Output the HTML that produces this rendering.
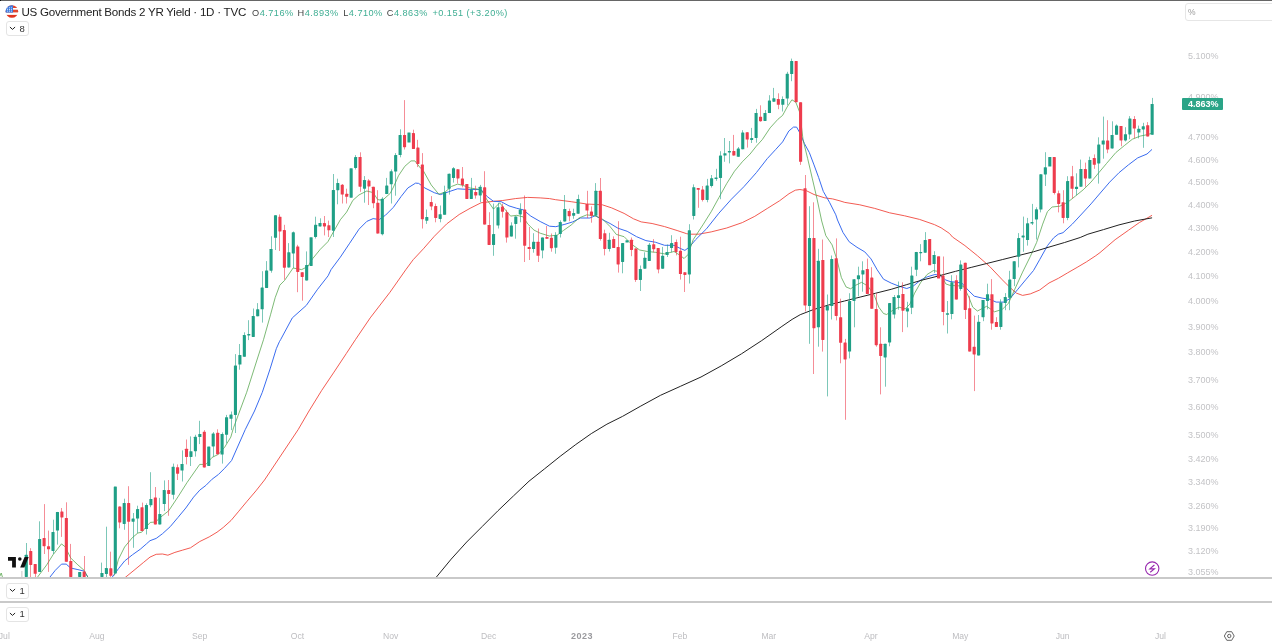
<!DOCTYPE html>
<html><head><meta charset="utf-8"><title>US Government Bonds 2 YR Yield</title>
<style>
html,body{margin:0;padding:0;background:#fff;}
body{width:1272px;height:642px;position:relative;overflow:hidden;font-family:"Liberation Sans",sans-serif;}
.abs{position:absolute}
#topline{left:0;top:0;width:1272px;height:1px;background:#666}
.sep{left:0;width:1272px;height:2px;background:#c9c9c9}
#title{left:21.5px;top:5.3px;font-size:11.6px;letter-spacing:-0.25px;color:#222;white-space:nowrap;line-height:13px}
.ohlc{top:6.5px;font-size:9.2px;letter-spacing:0.47px;color:#444;white-space:nowrap;line-height:12px}
.ohlc i{font-style:normal;color:#3fae93}
.btn{left:5.6px;width:21px;height:13.3px;border:1px solid #e4e4e4;border-radius:3px;font-size:9.5px;color:#333;line-height:13.5px;background:#fff}
.btn span{position:absolute;left:13px;top:-0.7px}
.btn svg{position:absolute;left:2.6px;top:4px}
.pl{position:absolute;left:1188px;font-size:9px;line-height:11px;color:#c3c3c6;white-space:nowrap}
#last{left:1182px;top:98.3px;width:40.7px;height:11.5px;background:#2aa487;color:#fff;font-weight:bold;font-size:9px;line-height:12.3px;text-indent:6px;border-radius:1px}
#pct{left:1185px;top:2.6px;width:95px;height:16px;border:1px solid #e6e6e6;border-radius:3px;font-size:8.5px;color:#9a9a9a;line-height:17px;text-indent:2px;background:#fff}
.tl{position:absolute;top:629.5px;width:40px;text-align:center;font-size:8.6px;line-height:12px;color:#bdbdc0;white-space:nowrap}
.tl.b{font-weight:bold;color:#9a9a9e;font-size:9px;letter-spacing:0.5px}
</style></head><body>
<div class="abs" id="topline"></div><div class="abs" style="left:0;top:0;width:1.2px;height:1.3px;background:#111"></div>
<svg class="abs" style="left:0;top:0" width="1272" height="642" viewBox="0 0 1272 642">
<line x1="21.85" y1="571" x2="21.85" y2="577" stroke="#cfcfcf" stroke-width="1.2"/>
<polyline points="125.4,577.3 134,570.3 143.3,562.6 150,557.1 156.2,554.3 162.5,554 167.9,555.2 174.9,552.4 182.7,550.1 190.5,547.8 199.8,541.5 209.2,536.9 217,532.2 223.2,527.5 231,520.5 238.8,511.2 246.6,501.8 255.9,490.9 264.5,480 298.1,429.7 309,411 321.5,390.7 334,372.1 346.4,353.4 355.4,339.7 370.2,317.9 390,292.2 405.8,269.7 413.2,259.7 423.4,248.8 434.3,236.3 446.7,223.9 459.2,214.5 470.1,208.3 481,202.8 493.5,201.3 502.8,200.5 515.3,198.6 527.7,197.4 540.2,197.9 549.5,198.6 555.6,199.7 571.2,201.7 586.7,204 602.3,204.8 611.7,207.9 624.1,213.4 633.5,218.8 641.2,221.9 652.1,223.5 664.6,226.6 677.1,230.5 686.4,233.6 689.3,234.2 698.7,234.2 711.2,231.9 726.7,228 742.3,222.6 754.8,216.3 767.2,208.5 779.7,200.7 789,193.7 795.3,190.2 799.9,189.5 806.2,190.6 814,194.5 824.9,197.9 832.6,198.9 840,200.9 844.8,202.4 859.8,204.8 874.7,208.4 889.6,212.8 904.6,215.8 919.5,219.4 934.4,224.6 941.1,227.8 949.4,233.4 952.5,237 964.9,245.6 977.4,255.7 989.8,266.6 1002.3,279.8 1010.1,287.6 1016.3,293.1 1022.6,295.4 1030.3,293.9 1039.7,290 1049,283 1058.4,278.3 1067.7,272.8 1077.1,267.4 1086.4,261.9 1095.8,255.7 1100,252.6 1115.1,239.7 1128.4,230.3 1139.3,222.6 1151.7,215.5" fill="none" stroke="#f0483e" stroke-width="0.9" stroke-linejoin="round" stroke-linecap="round" opacity="1"/>
<polyline points="49.8,577.3 55.3,570.3 61.5,564.1 66.2,564.1 70.6,568 77.9,569.6 84.1,571.1 88,577.3" fill="none" stroke="#3a6cf0" stroke-width="1.0" stroke-linejoin="round" stroke-linecap="round" opacity="1"/>
<polyline points="112.1,577.3 118.4,568.8 124.6,561 132.4,554.8 140.2,549.3 146.4,543.9 150,540.7 156.2,538.4 162.5,533.7 170.2,526.7 178,517.4 185.8,508 193.6,497.1 199.8,490.1 205.9,485.4 212.1,479.2 218.4,474.5 224.6,468.3 231.6,460.5 237.1,448 243.3,434 245.2,429.7 254.5,411 262.3,392.3 270.1,368.9 276.3,348.7 279.4,341.7 280.6,339.7 292.3,317.9 306.3,305.4 317.2,289.8 328.1,275.8 331,269.7 340.3,257.2 349.7,243.2 359,229.2 366.8,221.4 373.1,218.6 379.3,219.5 385.5,215.2 393.3,207.4 401.1,196.5 407.8,188 415.6,183.1 418.7,183.4 424.9,188 434.3,192.7 440.5,194.6 448.3,191.9 457.6,188.8 465.4,189.3 481,189.6 487.2,196.6 493.5,201.3 501.2,201.7 509,205.9 516.8,208.3 523.1,209.8 530.8,216.1 540.2,221.5 549.5,226.2 555.8,226.7 564.9,224.3 572.7,221.9 580.5,218 589.8,218 595.3,215.7 602.3,219.6 610.1,223.5 617.9,228.2 627.2,231.3 636.6,236.7 645.9,240.6 655.3,242.2 664.6,245.3 674,245.3 680.2,248.4 684.9,250.4 689.5,246.9 695.6,239.7 706.5,228.8 718.9,213.2 731.4,199.2 743.9,186.7 756.3,172.7 767.2,158.7 775.5,149.7 782.6,141.9 788.8,131 793.5,127.1 796.6,127.1 800.5,134.1 804.4,143.5 809.3,152.5 814,164.9 818.6,177.4 823.3,191.4 829.5,202.3 835.8,214.8 837.5,220 843,232.5 849.2,241.8 857,247.3 864.8,251.9 871,258.9 877.2,269.8 883.5,279.2 891.2,283.1 899,286.2 906.8,288.5 913.1,286.2 920.8,280 927.1,276.9 934.9,274.5 939.5,275.3 945.8,280 950,281.5 961.8,283 968,290 974.3,296.2 982.1,298.1 989.8,299.3 996.1,302.1 1003.9,302.1 1010.1,298.5 1017.9,289.2 1025.7,279.8 1033.5,270.5 1039.7,259.6 1047.5,245.6 1053.7,237.8 1058.3,234.2 1063,232.7 1072.3,224.1 1081.7,214 1091,203.9 1100.3,193 1109.7,182.1 1119,172.7 1128.4,164.9 1137.7,157.9 1147,154 1151.7,149.7" fill="none" stroke="#3a6cf0" stroke-width="1.0" stroke-linejoin="round" stroke-linecap="round" opacity="1"/>
<polyline points="0,576 1.2,573 2.5,577.3" fill="none" stroke="#52a348" stroke-width="0.75" stroke-linejoin="round" stroke-linecap="round" opacity="1"/>
<polyline points="37.4,577.3 46.7,564.9 53,554.8 61.5,543.9 65.4,547 70.6,557.9 77.9,564.9 84.1,570.3 88,577.3" fill="none" stroke="#52a348" stroke-width="0.75" stroke-linejoin="round" stroke-linecap="round" opacity="1"/>
<polyline points="114.5,575 118.4,559.4 124.6,547 132.4,537.6 137.9,533 141.7,532.2 146.4,526.7 150.3,522.4 155.8,522 159.3,518.2 168.7,510.8 178,496.8 187.2,482.3 199.7,464.4 205.9,464.4 212.1,457.4 218.4,454.3 224.6,447.3 230.8,437.1 233.5,427.8 246.7,392.3 257.6,358 263.5,339.7 270.5,314.8 275.2,297.6 279.8,285.2 284.5,280.5 293.1,268 301.6,269.6 307.9,266.5 312.6,258.7 320.3,249.3 327.9,241.7 334.1,230.7 340.3,219.8 346.6,212.1 352.8,200.4 359,194.9 366.8,191 373.1,192.6 377.7,199.6 382.4,200.4 390.2,193.4 393.5,187 398.5,175.7 404.8,166.3 411,160.9 414.9,160.9 420.3,167.9 423.4,170.9 431.2,184.9 438.9,194.3 445.2,191.9 451.4,186.5 457.6,184.1 463.9,185.7 470.1,188 481,189.6 486.4,198.9 493.5,209.1 499.7,202.8 505.9,210.6 510.6,216.1 516.8,215.3 523.1,216.9 527.7,223.9 534,230.1 540.2,233.2 549.3,236 557.1,235.2 563.4,230.5 571.2,225 578.9,218 586.7,214.9 594.5,215.7 602.3,218.8 610.1,226.6 616.3,234.4 624.1,236.7 631.9,244.5 639.7,250 647.5,251.5 655.3,252.3 664.6,253.9 674,251.5 680.2,255.4 684.1,258.5 688,254.6 693.2,239.7 703.4,224.1 711.2,211.7 718.9,197.6 726.7,183.6 734.5,171.2 742.3,161.8 750.1,154 756.3,146.2 762.3,139.6 770.1,127.9 777.9,119.3 782.6,115.4 787.2,106.9 791.9,99.8 795.8,102.2 799.7,112.3 803.1,140 807.7,158.7 812.4,178.9 817.1,199.2 821.7,221 825.8,235.6 832.1,244.9 836.7,258.9 841.4,277.6 846.1,287 850.7,288.8 855.4,285.4 861.7,282.3 867.9,286.2 874.1,294.8 878.8,307.2 883.5,313.5 886.6,314.5 892.8,310.3 899,307.2 905.3,308.8 909.9,304.1 914.6,293.2 920.8,282.3 927.1,274.5 933.3,270.6 938,271.4 942.6,277.6 945.8,283.9 950,285.4 963.4,286.1 968.8,297 972.7,307.1 977.4,311 986.7,306.3 994.5,311.8 1002.3,309.4 1008.5,303.2 1014.8,289.2 1022.6,272.1 1030.3,256.5 1036.6,242.5 1042.7,224.1 1047.4,211.7 1052.1,207 1059.8,206.2 1067.6,202.3 1075.4,196.1 1083.2,189.8 1091,182.1 1098.8,172.7 1106.6,163.4 1115.9,152.5 1124.6,145.4 1132.4,139.2 1140.2,136.1 1148,134.5 1152.2,133" fill="none" stroke="#52a348" stroke-width="0.75" stroke-linejoin="round" stroke-linecap="round" opacity="1"/>
<polyline points="436.2,577.3 451.2,559.1 466.7,542 482.3,526.4 497.9,510.8 513.5,495.9 529,481.2 544.6,468.8 560.2,456.3 575.8,444.5 591.3,433.6 606.9,424.2 622.5,416.4 640.2,406.4 660.5,395.3 680.7,386.2 701,377 721.2,365.9 741.5,353.8 761.7,340.6 781.9,326.4 792.1,319.4 800.2,314.7 813.4,309.6 828.9,304.9 844.5,301 860.1,297.1 875.7,293.2 891.2,289.3 906.8,284.6 922.4,280 938,276.1 955.6,271.3 971.2,267.4 986.7,263.5 1002.3,259.6 1017.9,255.7 1033.5,251.8 1049,247.1 1064.6,242.5 1080.2,237.5 1087.9,234.2 1103.5,229.6 1119,224.9 1134.6,221 1151.7,217.9" fill="none" stroke="#222" stroke-width="1.0" stroke-linejoin="round" stroke-linecap="round" opacity="1"/>
<line x1="26.5" y1="543" x2="26.5" y2="577" stroke="#1f9f86" stroke-width="1" opacity="0.58"/>
<rect x="24.75" y="554.8" width="3.1" height="22.2" fill="#1f9f86" rx="0.4"/>
<line x1="30.5" y1="548.2" x2="30.5" y2="577" stroke="#ee3c4d" stroke-width="1" opacity="0.58"/>
<rect x="29.2" y="550.9" width="3.1" height="14" fill="#ee3c4d" rx="0.4"/>
<line x1="35.5" y1="564" x2="35.5" y2="577" stroke="#ee3c4d" stroke-width="1" opacity="0.58"/>
<rect x="33.65" y="564" width="3.1" height="9.8" fill="#ee3c4d" rx="0.4"/>
<line x1="39.5" y1="521.3" x2="39.5" y2="571.9" stroke="#1f9f86" stroke-width="1" opacity="0.58"/>
<rect x="38.1" y="538.9" width="3.1" height="33" fill="#1f9f86" rx="0.4"/>
<line x1="44.5" y1="504.1" x2="44.5" y2="554" stroke="#ee3c4d" stroke-width="1" opacity="0.58"/>
<rect x="42.55" y="537.9" width="3.1" height="8.3" fill="#ee3c4d" rx="0.4"/>
<line x1="48.5" y1="530.6" x2="48.5" y2="571.9" stroke="#ee3c4d" stroke-width="1" opacity="0.58"/>
<rect x="47" y="546.2" width="3.1" height="3.1" fill="#ee3c4d" rx="0.4"/>
<line x1="53.5" y1="519.7" x2="53.5" y2="554" stroke="#1f9f86" stroke-width="1" opacity="0.58"/>
<rect x="51.45" y="531.9" width="3.1" height="19" fill="#1f9f86" rx="0.4"/>
<line x1="57.5" y1="511.9" x2="57.5" y2="544.6" stroke="#1f9f86" stroke-width="1" opacity="0.58"/>
<rect x="55.9" y="511.9" width="3.1" height="18.7" fill="#1f9f86" rx="0.4"/>
<line x1="61.5" y1="508" x2="61.5" y2="536.9" stroke="#ee3c4d" stroke-width="1" opacity="0.58"/>
<rect x="60.35" y="511.6" width="3.1" height="5.8" fill="#ee3c4d" rx="0.4"/>
<line x1="66.5" y1="502.3" x2="66.5" y2="561.8" stroke="#ee3c4d" stroke-width="1" opacity="0.58"/>
<rect x="64.8" y="517.9" width="3.1" height="43.9" fill="#ee3c4d" rx="0.4"/>
<line x1="70.5" y1="543.9" x2="70.5" y2="577" stroke="#ee3c4d" stroke-width="1" opacity="0.58"/>
<rect x="69.25" y="561" width="3.1" height="16" fill="#ee3c4d" rx="0.4"/>
<rect x="78.15" y="571.9" width="3.1" height="5.1" fill="#1f9f86" rx="0.4"/>
<line x1="84.5" y1="556" x2="84.5" y2="577" stroke="#ee3c4d" stroke-width="1" opacity="0.58"/>
<rect x="82.6" y="571.6" width="3.1" height="5.4" fill="#ee3c4d" rx="0.4"/>
<line x1="101.5" y1="562.6" x2="101.5" y2="577" stroke="#1f9f86" stroke-width="1" opacity="0.58"/>
<rect x="100.4" y="573.1" width="3.1" height="3.9" fill="#1f9f86" rx="0.4"/>
<line x1="106.5" y1="526.7" x2="106.5" y2="577" stroke="#1f9f86" stroke-width="1" opacity="0.58"/>
<rect x="104.85" y="568" width="3.1" height="5.9" fill="#1f9f86" rx="0.4"/>
<line x1="110.5" y1="551.7" x2="110.5" y2="577" stroke="#ee3c4d" stroke-width="1" opacity="0.58"/>
<rect x="109.3" y="568.3" width="3.1" height="7.5" fill="#ee3c4d" rx="0.4"/>
<rect x="113.75" y="486.5" width="3.1" height="87" fill="#1f9f86" rx="0.4"/>
<line x1="119.5" y1="506.4" x2="119.5" y2="528.3" stroke="#ee3c4d" stroke-width="1" opacity="0.58"/>
<rect x="118.2" y="506.5" width="3.1" height="15.9" fill="#ee3c4d" rx="0.4"/>
<line x1="124.5" y1="498.7" x2="124.5" y2="529.8" stroke="#1f9f86" stroke-width="1" opacity="0.58"/>
<rect x="122.65" y="502.9" width="3.1" height="21" fill="#1f9f86" rx="0.4"/>
<line x1="128.5" y1="486.2" x2="128.5" y2="564.9" stroke="#ee3c4d" stroke-width="1" opacity="0.58"/>
<rect x="127.1" y="502.9" width="3.1" height="18.8" fill="#ee3c4d" rx="0.4"/>
<line x1="133.5" y1="513" x2="133.5" y2="547.8" stroke="#1f9f86" stroke-width="1" opacity="0.58"/>
<rect x="131.55" y="518.6" width="3.1" height="3.1" fill="#1f9f86" rx="0.4"/>
<line x1="137.5" y1="505.7" x2="137.5" y2="533" stroke="#1f9f86" stroke-width="1" opacity="0.58"/>
<rect x="136" y="509.1" width="3.1" height="9.5" fill="#1f9f86" rx="0.4"/>
<line x1="142.5" y1="502.6" x2="142.5" y2="531.1" stroke="#ee3c4d" stroke-width="1" opacity="0.58"/>
<rect x="140.45" y="507.3" width="3.1" height="23.8" fill="#ee3c4d" rx="0.4"/>
<line x1="146.5" y1="503.3" x2="146.5" y2="534.5" stroke="#1f9f86" stroke-width="1" opacity="0.58"/>
<rect x="144.9" y="504.9" width="3.1" height="24.2" fill="#1f9f86" rx="0.4"/>
<line x1="150.5" y1="472.2" x2="150.5" y2="507.2" stroke="#1f9f86" stroke-width="1" opacity="0.58"/>
<rect x="149.35" y="499" width="3.1" height="6.2" fill="#1f9f86" rx="0.4"/>
<line x1="155.5" y1="487" x2="155.5" y2="524.4" stroke="#ee3c4d" stroke-width="1" opacity="0.58"/>
<rect x="153.8" y="497.4" width="3.1" height="27" fill="#ee3c4d" rx="0.4"/>
<line x1="159.5" y1="497.9" x2="159.5" y2="524.4" stroke="#1f9f86" stroke-width="1" opacity="0.58"/>
<rect x="158.25" y="514" width="3.1" height="10.4" fill="#1f9f86" rx="0.4"/>
<line x1="164.5" y1="480.4" x2="164.5" y2="511.1" stroke="#1f9f86" stroke-width="1" opacity="0.58"/>
<rect x="162.7" y="490.1" width="3.1" height="14" fill="#1f9f86" rx="0.4"/>
<line x1="168.5" y1="480" x2="168.5" y2="515.8" stroke="#ee3c4d" stroke-width="1" opacity="0.58"/>
<rect x="167.15" y="490.1" width="3.1" height="3.9" fill="#ee3c4d" rx="0.4"/>
<line x1="173.5" y1="463.6" x2="173.5" y2="499.4" stroke="#1f9f86" stroke-width="1" opacity="0.58"/>
<rect x="171.6" y="466.7" width="3.1" height="28.1" fill="#1f9f86" rx="0.4"/>
<line x1="177.5" y1="464.4" x2="177.5" y2="480" stroke="#ee3c4d" stroke-width="1" opacity="0.58"/>
<rect x="176.05" y="467.2" width="3.1" height="6.5" fill="#ee3c4d" rx="0.4"/>
<line x1="182.5" y1="450.4" x2="182.5" y2="481.5" stroke="#1f9f86" stroke-width="1" opacity="0.58"/>
<rect x="180.5" y="464.1" width="3.1" height="6.5" fill="#1f9f86" rx="0.4"/>
<line x1="186.5" y1="439.5" x2="186.5" y2="464.4" stroke="#ee3c4d" stroke-width="1" opacity="0.58"/>
<rect x="184.95" y="448.8" width="3.1" height="8.1" fill="#ee3c4d" rx="0.4"/>
<line x1="190.5" y1="436.4" x2="190.5" y2="466" stroke="#1f9f86" stroke-width="1" opacity="0.58"/>
<rect x="189.4" y="451.2" width="3.1" height="5.7" fill="#1f9f86" rx="0.4"/>
<line x1="195.5" y1="434.8" x2="195.5" y2="456.6" stroke="#1f9f86" stroke-width="1" opacity="0.58"/>
<rect x="193.85" y="436.8" width="3.1" height="14.4" fill="#1f9f86" rx="0.4"/>
<line x1="199.5" y1="420.8" x2="199.5" y2="444.1" stroke="#1f9f86" stroke-width="1" opacity="0.58"/>
<rect x="198.3" y="434" width="3.1" height="3.1" fill="#1f9f86" rx="0.4"/>
<line x1="204.5" y1="430.1" x2="204.5" y2="467.5" stroke="#ee3c4d" stroke-width="1" opacity="0.58"/>
<rect x="202.75" y="431.7" width="3.1" height="35.8" fill="#ee3c4d" rx="0.4"/>
<rect x="207.2" y="446.5" width="3.1" height="19.5" fill="#1f9f86" rx="0.4"/>
<line x1="213.5" y1="432.1" x2="213.5" y2="456.6" stroke="#1f9f86" stroke-width="1" opacity="0.58"/>
<rect x="211.65" y="433.6" width="3.1" height="12.9" fill="#1f9f86" rx="0.4"/>
<line x1="217.5" y1="429.3" x2="217.5" y2="454.3" stroke="#ee3c4d" stroke-width="1" opacity="0.58"/>
<rect x="216.1" y="432.8" width="3.1" height="21.5" fill="#ee3c4d" rx="0.4"/>
<line x1="222.5" y1="432.4" x2="222.5" y2="463.6" stroke="#1f9f86" stroke-width="1" opacity="0.58"/>
<rect x="220.55" y="434" width="3.1" height="20.6" fill="#1f9f86" rx="0.4"/>
<line x1="226.5" y1="414.9" x2="226.5" y2="443.4" stroke="#1f9f86" stroke-width="1" opacity="0.58"/>
<rect x="225" y="417.2" width="3.1" height="17.6" fill="#1f9f86" rx="0.4"/>
<line x1="231.5" y1="411.5" x2="231.5" y2="430.1" stroke="#1f9f86" stroke-width="1" opacity="0.58"/>
<rect x="229.45" y="414.6" width="3.1" height="4.2" fill="#1f9f86" rx="0.4"/>
<line x1="235.5" y1="354.1" x2="235.5" y2="433" stroke="#1f9f86" stroke-width="1" opacity="0.58"/>
<rect x="233.9" y="365.5" width="3.1" height="49.4" fill="#1f9f86" rx="0.4"/>
<line x1="239.5" y1="344" x2="239.5" y2="369.7" stroke="#1f9f86" stroke-width="1" opacity="0.58"/>
<rect x="238.35" y="354.9" width="3.1" height="9.7" fill="#1f9f86" rx="0.4"/>
<line x1="244.5" y1="332.3" x2="244.5" y2="356.8" stroke="#1f9f86" stroke-width="1" opacity="0.58"/>
<rect x="242.8" y="335.1" width="3.1" height="21.7" fill="#1f9f86" rx="0.4"/>
<line x1="248.5" y1="320.2" x2="248.5" y2="340.1" stroke="#1f9f86" stroke-width="1" opacity="0.58"/>
<rect x="247.25" y="333.9" width="3.1" height="1.6" fill="#1f9f86" rx="0.4"/>
<line x1="253.5" y1="308.5" x2="253.5" y2="337" stroke="#1f9f86" stroke-width="1" opacity="0.58"/>
<rect x="251.7" y="316" width="3.1" height="21" fill="#1f9f86" rx="0.4"/>
<line x1="257.5" y1="303.1" x2="257.5" y2="316.3" stroke="#1f9f86" stroke-width="1" opacity="0.58"/>
<rect x="256.15" y="309.3" width="3.1" height="7" fill="#1f9f86" rx="0.4"/>
<line x1="262.5" y1="271.2" x2="262.5" y2="322.6" stroke="#1f9f86" stroke-width="1" opacity="0.58"/>
<rect x="260.6" y="287.5" width="3.1" height="21.8" fill="#1f9f86" rx="0.4"/>
<line x1="266.5" y1="261.1" x2="266.5" y2="288" stroke="#1f9f86" stroke-width="1" opacity="0.58"/>
<rect x="265.05" y="270.4" width="3.1" height="17.6" fill="#1f9f86" rx="0.4"/>
<line x1="271.5" y1="236.2" x2="271.5" y2="272.7" stroke="#1f9f86" stroke-width="1" opacity="0.58"/>
<rect x="269.5" y="249" width="3.1" height="21.7" fill="#1f9f86" rx="0.4"/>
<line x1="275.5" y1="215.2" x2="275.5" y2="250" stroke="#1f9f86" stroke-width="1" opacity="0.58"/>
<rect x="273.95" y="215.2" width="3.1" height="22.6" fill="#1f9f86" rx="0.4"/>
<line x1="279.5" y1="214.4" x2="279.5" y2="251" stroke="#ee3c4d" stroke-width="1" opacity="0.58"/>
<rect x="278.4" y="216.7" width="3.1" height="14.8" fill="#ee3c4d" rx="0.4"/>
<line x1="284.5" y1="224.8" x2="284.5" y2="279.7" stroke="#ee3c4d" stroke-width="1" opacity="0.58"/>
<rect x="282.85" y="230" width="3.1" height="37.7" fill="#ee3c4d" rx="0.4"/>
<line x1="288.5" y1="243.1" x2="288.5" y2="267.5" stroke="#1f9f86" stroke-width="1" opacity="0.58"/>
<rect x="287.3" y="252.3" width="3.1" height="15.2" fill="#1f9f86" rx="0.4"/>
<line x1="293.5" y1="231.5" x2="293.5" y2="268" stroke="#1f9f86" stroke-width="1" opacity="0.58"/>
<rect x="291.75" y="232.3" width="3.1" height="21.2" fill="#1f9f86" rx="0.4"/>
<line x1="297.5" y1="244.8" x2="297.5" y2="292.2" stroke="#ee3c4d" stroke-width="1" opacity="0.58"/>
<rect x="296.2" y="246.4" width="3.1" height="25.5" fill="#ee3c4d" rx="0.4"/>
<line x1="302.5" y1="272.2" x2="302.5" y2="300.7" stroke="#ee3c4d" stroke-width="1" opacity="0.58"/>
<rect x="300.65" y="272.2" width="3.1" height="4.7" fill="#ee3c4d" rx="0.4"/>
<line x1="306.5" y1="251.4" x2="306.5" y2="280.5" stroke="#1f9f86" stroke-width="1" opacity="0.58"/>
<rect x="305.1" y="264.9" width="3.1" height="15.6" fill="#1f9f86" rx="0.4"/>
<rect x="309.55" y="237.3" width="3.1" height="28.7" fill="#1f9f86" rx="0.4"/>
<line x1="315.5" y1="216.7" x2="315.5" y2="238.5" stroke="#1f9f86" stroke-width="1" opacity="0.58"/>
<rect x="314" y="224.8" width="3.1" height="12.2" fill="#1f9f86" rx="0.4"/>
<line x1="320.5" y1="218.3" x2="320.5" y2="226.4" stroke="#1f9f86" stroke-width="1" opacity="0.58"/>
<rect x="318.45" y="223" width="3.1" height="3.4" fill="#1f9f86" rx="0.4"/>
<line x1="324.5" y1="216" x2="324.5" y2="235.4" stroke="#ee3c4d" stroke-width="1" opacity="0.58"/>
<rect x="322.9" y="223" width="3.1" height="3.4" fill="#ee3c4d" rx="0.4"/>
<line x1="328.5" y1="220.6" x2="328.5" y2="237" stroke="#ee3c4d" stroke-width="1" opacity="0.58"/>
<rect x="327.35" y="225.3" width="3.1" height="5" fill="#ee3c4d" rx="0.4"/>
<line x1="333.5" y1="174" x2="333.5" y2="237" stroke="#1f9f86" stroke-width="1" opacity="0.58"/>
<rect x="331.8" y="189.9" width="3.1" height="40.8" fill="#1f9f86" rx="0.4"/>
<line x1="337.5" y1="178.7" x2="337.5" y2="204.3" stroke="#1f9f86" stroke-width="1" opacity="0.58"/>
<rect x="336.25" y="182.9" width="3.1" height="7.3" fill="#1f9f86" rx="0.4"/>
<line x1="342.5" y1="184" x2="342.5" y2="203.5" stroke="#ee3c4d" stroke-width="1" opacity="0.58"/>
<rect x="340.7" y="184.7" width="3.1" height="9.9" fill="#ee3c4d" rx="0.4"/>
<line x1="346.5" y1="188.7" x2="346.5" y2="203.5" stroke="#ee3c4d" stroke-width="1" opacity="0.58"/>
<rect x="345.15" y="193.8" width="3.1" height="3" fill="#ee3c4d" rx="0.4"/>
<rect x="349.6" y="168.3" width="3.1" height="29.4" fill="#1f9f86" rx="0.4"/>
<line x1="355.5" y1="155.1" x2="355.5" y2="169.5" stroke="#1f9f86" stroke-width="1" opacity="0.58"/>
<rect x="354.05" y="157" width="3.1" height="10.9" fill="#1f9f86" rx="0.4"/>
<line x1="360.5" y1="152.3" x2="360.5" y2="191.8" stroke="#ee3c4d" stroke-width="1" opacity="0.58"/>
<rect x="358.5" y="157" width="3.1" height="29.7" fill="#ee3c4d" rx="0.4"/>
<line x1="364.5" y1="176.1" x2="364.5" y2="202.7" stroke="#1f9f86" stroke-width="1" opacity="0.58"/>
<rect x="362.95" y="180.1" width="3.1" height="8.6" fill="#1f9f86" rx="0.4"/>
<line x1="368.5" y1="179.2" x2="368.5" y2="205" stroke="#ee3c4d" stroke-width="1" opacity="0.58"/>
<rect x="367.4" y="180.6" width="3.1" height="5.9" fill="#ee3c4d" rx="0.4"/>
<line x1="373.5" y1="186.8" x2="373.5" y2="208.2" stroke="#ee3c4d" stroke-width="1" opacity="0.58"/>
<rect x="371.85" y="186.8" width="3.1" height="16.4" fill="#ee3c4d" rx="0.4"/>
<line x1="377.5" y1="190.2" x2="377.5" y2="233.6" stroke="#ee3c4d" stroke-width="1" opacity="0.58"/>
<rect x="376.3" y="202.7" width="3.1" height="30.9" fill="#ee3c4d" rx="0.4"/>
<line x1="382.5" y1="197.2" x2="382.5" y2="235.4" stroke="#1f9f86" stroke-width="1" opacity="0.58"/>
<rect x="380.75" y="198.8" width="3.1" height="35.4" fill="#1f9f86" rx="0.4"/>
<line x1="386.5" y1="177.9" x2="386.5" y2="194.1" stroke="#1f9f86" stroke-width="1" opacity="0.58"/>
<rect x="385.2" y="185.5" width="3.1" height="8.6" fill="#1f9f86" rx="0.4"/>
<line x1="391.5" y1="169.4" x2="391.5" y2="203.5" stroke="#1f9f86" stroke-width="1" opacity="0.58"/>
<rect x="389.65" y="171.3" width="3.1" height="13" fill="#1f9f86" rx="0.4"/>
<line x1="395.5" y1="153.1" x2="395.5" y2="195.7" stroke="#1f9f86" stroke-width="1" opacity="0.58"/>
<rect x="394.1" y="155.1" width="3.1" height="16.5" fill="#1f9f86" rx="0.4"/>
<line x1="400.5" y1="129.3" x2="400.5" y2="157.3" stroke="#1f9f86" stroke-width="1" opacity="0.58"/>
<rect x="398.55" y="134.9" width="3.1" height="20.2" fill="#1f9f86" rx="0.4"/>
<line x1="404.5" y1="100.1" x2="404.5" y2="149.5" stroke="#ee3c4d" stroke-width="1" opacity="0.58"/>
<rect x="403" y="134.9" width="3.1" height="12.3" fill="#ee3c4d" rx="0.4"/>
<rect x="407.45" y="132.4" width="3.1" height="10.2" fill="#1f9f86" rx="0.4"/>
<line x1="413.5" y1="129.7" x2="413.5" y2="148.9" stroke="#ee3c4d" stroke-width="1" opacity="0.58"/>
<rect x="411.9" y="133.1" width="3.1" height="15.8" fill="#ee3c4d" rx="0.4"/>
<line x1="417.5" y1="139.8" x2="417.5" y2="167.1" stroke="#ee3c4d" stroke-width="1" opacity="0.58"/>
<rect x="416.35" y="147.6" width="3.1" height="16.4" fill="#ee3c4d" rx="0.4"/>
<line x1="422.5" y1="153.1" x2="422.5" y2="228.5" stroke="#ee3c4d" stroke-width="1" opacity="0.58"/>
<rect x="420.8" y="164.5" width="3.1" height="54.7" fill="#ee3c4d" rx="0.4"/>
<line x1="426.5" y1="209.5" x2="426.5" y2="223.9" stroke="#1f9f86" stroke-width="1" opacity="0.58"/>
<rect x="425.25" y="216.9" width="3.1" height="3.8" fill="#1f9f86" rx="0.4"/>
<line x1="431.5" y1="196.1" x2="431.5" y2="210.2" stroke="#ee3c4d" stroke-width="1" opacity="0.58"/>
<rect x="429.7" y="202.1" width="3.1" height="4.3" fill="#ee3c4d" rx="0.4"/>
<line x1="435.5" y1="203.6" x2="435.5" y2="222.3" stroke="#ee3c4d" stroke-width="1" opacity="0.58"/>
<rect x="434.15" y="206" width="3.1" height="11.9" fill="#ee3c4d" rx="0.4"/>
<line x1="440.5" y1="205.5" x2="440.5" y2="222.3" stroke="#1f9f86" stroke-width="1" opacity="0.58"/>
<rect x="438.6" y="214.2" width="3.1" height="4.7" fill="#1f9f86" rx="0.4"/>
<line x1="444.5" y1="185.7" x2="444.5" y2="214.8" stroke="#1f9f86" stroke-width="1" opacity="0.58"/>
<rect x="443.05" y="191.9" width="3.1" height="22.9" fill="#1f9f86" rx="0.4"/>
<line x1="449.5" y1="173.6" x2="449.5" y2="194.6" stroke="#1f9f86" stroke-width="1" opacity="0.58"/>
<rect x="447.5" y="173.7" width="3.1" height="15.1" fill="#1f9f86" rx="0.4"/>
<line x1="453.5" y1="167.1" x2="453.5" y2="182.6" stroke="#1f9f86" stroke-width="1" opacity="0.58"/>
<rect x="451.95" y="168.2" width="3.1" height="9.7" fill="#1f9f86" rx="0.4"/>
<line x1="457.5" y1="169.2" x2="457.5" y2="183.4" stroke="#ee3c4d" stroke-width="1" opacity="0.58"/>
<rect x="456.4" y="169.2" width="3.1" height="9.2" fill="#ee3c4d" rx="0.4"/>
<line x1="462.5" y1="167" x2="462.5" y2="187.3" stroke="#ee3c4d" stroke-width="1" opacity="0.58"/>
<rect x="460.85" y="178.6" width="3.1" height="6.3" fill="#ee3c4d" rx="0.4"/>
<rect x="465.3" y="184.1" width="3.1" height="14.8" fill="#ee3c4d" rx="0.4"/>
<line x1="471.5" y1="177.9" x2="471.5" y2="198.9" stroke="#1f9f86" stroke-width="1" opacity="0.58"/>
<rect x="469.75" y="189.6" width="3.1" height="9.3" fill="#1f9f86" rx="0.4"/>
<line x1="475.5" y1="185.7" x2="475.5" y2="198.6" stroke="#ee3c4d" stroke-width="1" opacity="0.58"/>
<rect x="474.2" y="191.9" width="3.1" height="3.6" fill="#ee3c4d" rx="0.4"/>
<line x1="480.5" y1="184.9" x2="480.5" y2="202.1" stroke="#1f9f86" stroke-width="1" opacity="0.58"/>
<rect x="478.65" y="186.8" width="3.1" height="8.7" fill="#1f9f86" rx="0.4"/>
<line x1="484.5" y1="171.2" x2="484.5" y2="224.6" stroke="#ee3c4d" stroke-width="1" opacity="0.58"/>
<rect x="483.1" y="187.3" width="3.1" height="37.3" fill="#ee3c4d" rx="0.4"/>
<line x1="489.5" y1="212.2" x2="489.5" y2="244.9" stroke="#ee3c4d" stroke-width="1" opacity="0.58"/>
<rect x="487.55" y="225.1" width="3.1" height="19.8" fill="#ee3c4d" rx="0.4"/>
<line x1="493.5" y1="203.6" x2="493.5" y2="255.8" stroke="#1f9f86" stroke-width="1" opacity="0.58"/>
<rect x="492" y="234" width="3.1" height="10.9" fill="#1f9f86" rx="0.4"/>
<line x1="498.5" y1="202.8" x2="498.5" y2="228.5" stroke="#1f9f86" stroke-width="1" opacity="0.58"/>
<rect x="496.45" y="207.2" width="3.1" height="18.2" fill="#1f9f86" rx="0.4"/>
<line x1="502.5" y1="203.6" x2="502.5" y2="217.6" stroke="#ee3c4d" stroke-width="1" opacity="0.58"/>
<rect x="500.9" y="206.4" width="3.1" height="5.3" fill="#ee3c4d" rx="0.4"/>
<line x1="506.5" y1="209.8" x2="506.5" y2="242.6" stroke="#ee3c4d" stroke-width="1" opacity="0.58"/>
<rect x="505.35" y="212.2" width="3.1" height="25.4" fill="#ee3c4d" rx="0.4"/>
<line x1="511.5" y1="222.3" x2="511.5" y2="236.6" stroke="#1f9f86" stroke-width="1" opacity="0.58"/>
<rect x="509.8" y="225.4" width="3.1" height="11.2" fill="#1f9f86" rx="0.4"/>
<line x1="515.5" y1="216.4" x2="515.5" y2="238.7" stroke="#1f9f86" stroke-width="1" opacity="0.58"/>
<rect x="514.25" y="216.4" width="3.1" height="7.5" fill="#1f9f86" rx="0.4"/>
<line x1="520.5" y1="203.3" x2="520.5" y2="222.3" stroke="#1f9f86" stroke-width="1" opacity="0.58"/>
<rect x="518.7" y="209.5" width="3.1" height="5" fill="#1f9f86" rx="0.4"/>
<line x1="524.5" y1="195.5" x2="524.5" y2="262" stroke="#ee3c4d" stroke-width="1" opacity="0.58"/>
<rect x="523.15" y="209.5" width="3.1" height="36.2" fill="#ee3c4d" rx="0.4"/>
<line x1="529.5" y1="227" x2="529.5" y2="260" stroke="#ee3c4d" stroke-width="1" opacity="0.58"/>
<rect x="527.6" y="246.9" width="3.1" height="2.2" fill="#ee3c4d" rx="0.4"/>
<line x1="533.5" y1="233.2" x2="533.5" y2="252.7" stroke="#1f9f86" stroke-width="1" opacity="0.58"/>
<rect x="532.05" y="241.8" width="3.1" height="7.3" fill="#1f9f86" rx="0.4"/>
<line x1="538.5" y1="228.5" x2="538.5" y2="262" stroke="#ee3c4d" stroke-width="1" opacity="0.58"/>
<rect x="536.5" y="241.8" width="3.1" height="14" fill="#ee3c4d" rx="0.4"/>
<line x1="542.5" y1="237.4" x2="542.5" y2="258.3" stroke="#1f9f86" stroke-width="1" opacity="0.58"/>
<rect x="540.95" y="237.4" width="3.1" height="13.1" fill="#1f9f86" rx="0.4"/>
<line x1="546.5" y1="226" x2="546.5" y2="238.8" stroke="#ee3c4d" stroke-width="1" opacity="0.58"/>
<rect x="545.4" y="237.1" width="3.1" height="1.7" fill="#ee3c4d" rx="0.4"/>
<line x1="551.5" y1="233.5" x2="551.5" y2="251.7" stroke="#ee3c4d" stroke-width="1" opacity="0.58"/>
<rect x="549.85" y="237.7" width="3.1" height="10.5" fill="#ee3c4d" rx="0.4"/>
<line x1="555.5" y1="232.2" x2="555.5" y2="253.7" stroke="#1f9f86" stroke-width="1" opacity="0.58"/>
<rect x="554.3" y="235" width="3.1" height="12.7" fill="#1f9f86" rx="0.4"/>
<line x1="560.5" y1="220.4" x2="560.5" y2="237.5" stroke="#1f9f86" stroke-width="1" opacity="0.58"/>
<rect x="558.75" y="222" width="3.1" height="11.9" fill="#1f9f86" rx="0.4"/>
<line x1="564.5" y1="195" x2="564.5" y2="221.5" stroke="#1f9f86" stroke-width="1" opacity="0.58"/>
<rect x="563.2" y="209" width="3.1" height="12.5" fill="#1f9f86" rx="0.4"/>
<line x1="569.5" y1="208.7" x2="569.5" y2="221.2" stroke="#ee3c4d" stroke-width="1" opacity="0.58"/>
<rect x="567.65" y="211" width="3.1" height="5.2" fill="#ee3c4d" rx="0.4"/>
<line x1="573.5" y1="208.7" x2="573.5" y2="218.8" stroke="#1f9f86" stroke-width="1" opacity="0.58"/>
<rect x="572.1" y="213.1" width="3.1" height="2.6" fill="#1f9f86" rx="0.4"/>
<line x1="578.5" y1="194.7" x2="578.5" y2="213.7" stroke="#1f9f86" stroke-width="1" opacity="0.58"/>
<rect x="576.55" y="198.9" width="3.1" height="14.8" fill="#1f9f86" rx="0.4"/>
<line x1="587.5" y1="190.8" x2="587.5" y2="218" stroke="#ee3c4d" stroke-width="1" opacity="0.58"/>
<rect x="585.45" y="204" width="3.1" height="6.6" fill="#ee3c4d" rx="0.4"/>
<line x1="591.5" y1="206.4" x2="591.5" y2="222.7" stroke="#ee3c4d" stroke-width="1" opacity="0.58"/>
<rect x="589.9" y="211.5" width="3.1" height="4.2" fill="#ee3c4d" rx="0.4"/>
<line x1="595.5" y1="183.1" x2="595.5" y2="215.7" stroke="#1f9f86" stroke-width="1" opacity="0.58"/>
<rect x="594.35" y="190.8" width="3.1" height="24.9" fill="#1f9f86" rx="0.4"/>
<line x1="600.5" y1="178" x2="600.5" y2="240.6" stroke="#ee3c4d" stroke-width="1" opacity="0.58"/>
<rect x="598.8" y="190.8" width="3.1" height="48.3" fill="#ee3c4d" rx="0.4"/>
<line x1="604.5" y1="229.7" x2="604.5" y2="255.4" stroke="#ee3c4d" stroke-width="1" opacity="0.58"/>
<rect x="603.25" y="233.3" width="3.1" height="15.6" fill="#ee3c4d" rx="0.4"/>
<line x1="609.5" y1="232.8" x2="609.5" y2="251.5" stroke="#1f9f86" stroke-width="1" opacity="0.58"/>
<rect x="607.7" y="239.8" width="3.1" height="9.1" fill="#1f9f86" rx="0.4"/>
<line x1="613.5" y1="236.4" x2="613.5" y2="247.9" stroke="#ee3c4d" stroke-width="1" opacity="0.58"/>
<rect x="612.15" y="239.1" width="3.1" height="8.8" fill="#ee3c4d" rx="0.4"/>
<line x1="618.5" y1="221.2" x2="618.5" y2="272.6" stroke="#ee3c4d" stroke-width="1" opacity="0.58"/>
<rect x="616.6" y="246.9" width="3.1" height="17.6" fill="#ee3c4d" rx="0.4"/>
<line x1="622.5" y1="243" x2="622.5" y2="273.3" stroke="#1f9f86" stroke-width="1" opacity="0.58"/>
<rect x="621.05" y="243" width="3.1" height="19" fill="#1f9f86" rx="0.4"/>
<rect x="625.5" y="240.2" width="3.1" height="2.4" fill="#1f9f86" rx="0.4"/>
<line x1="631.5" y1="237.5" x2="631.5" y2="256.2" stroke="#ee3c4d" stroke-width="1" opacity="0.58"/>
<rect x="629.95" y="239.8" width="3.1" height="10.2" fill="#ee3c4d" rx="0.4"/>
<line x1="635.5" y1="248.4" x2="635.5" y2="281.9" stroke="#ee3c4d" stroke-width="1" opacity="0.58"/>
<rect x="634.4" y="248.4" width="3.1" height="31.6" fill="#ee3c4d" rx="0.4"/>
<line x1="640.5" y1="265.5" x2="640.5" y2="291" stroke="#1f9f86" stroke-width="1" opacity="0.58"/>
<rect x="638.85" y="269.1" width="3.1" height="10.9" fill="#1f9f86" rx="0.4"/>
<line x1="644.5" y1="252.3" x2="644.5" y2="268.7" stroke="#1f9f86" stroke-width="1" opacity="0.58"/>
<rect x="643.3" y="257.8" width="3.1" height="10.9" fill="#1f9f86" rx="0.4"/>
<line x1="649.5" y1="243" x2="649.5" y2="260.9" stroke="#1f9f86" stroke-width="1" opacity="0.58"/>
<rect x="647.75" y="244.8" width="3.1" height="16.1" fill="#1f9f86" rx="0.4"/>
<line x1="653.5" y1="239.1" x2="653.5" y2="252.3" stroke="#ee3c4d" stroke-width="1" opacity="0.58"/>
<rect x="652.2" y="244.2" width="3.1" height="5" fill="#ee3c4d" rx="0.4"/>
<line x1="658.5" y1="248.1" x2="658.5" y2="273.3" stroke="#ee3c4d" stroke-width="1" opacity="0.58"/>
<rect x="656.65" y="248.1" width="3.1" height="21.3" fill="#ee3c4d" rx="0.4"/>
<line x1="662.5" y1="246.9" x2="662.5" y2="268.7" stroke="#1f9f86" stroke-width="1" opacity="0.58"/>
<rect x="661.1" y="255.7" width="3.1" height="13" fill="#1f9f86" rx="0.4"/>
<line x1="667.5" y1="244.5" x2="667.5" y2="257" stroke="#1f9f86" stroke-width="1" opacity="0.58"/>
<rect x="665.55" y="252" width="3.1" height="3.1" fill="#1f9f86" rx="0.4"/>
<line x1="671.5" y1="235.2" x2="671.5" y2="252.3" stroke="#1f9f86" stroke-width="1" opacity="0.58"/>
<rect x="670" y="243" width="3.1" height="4.9" fill="#1f9f86" rx="0.4"/>
<line x1="676.5" y1="239.5" x2="676.5" y2="255.4" stroke="#ee3c4d" stroke-width="1" opacity="0.58"/>
<rect x="674.45" y="241.9" width="3.1" height="10.1" fill="#ee3c4d" rx="0.4"/>
<line x1="680.5" y1="236.7" x2="680.5" y2="279.6" stroke="#ee3c4d" stroke-width="1" opacity="0.58"/>
<rect x="678.9" y="250.7" width="3.1" height="23.4" fill="#ee3c4d" rx="0.4"/>
<line x1="684.5" y1="272.2" x2="684.5" y2="292" stroke="#ee3c4d" stroke-width="1" opacity="0.58"/>
<rect x="683.35" y="272.2" width="3.1" height="2.7" fill="#ee3c4d" rx="0.4"/>
<line x1="689.5" y1="224.2" x2="689.5" y2="283.5" stroke="#1f9f86" stroke-width="1" opacity="0.58"/>
<rect x="687.8" y="230.2" width="3.1" height="44.2" fill="#1f9f86" rx="0.4"/>
<line x1="693.5" y1="184.4" x2="693.5" y2="219.5" stroke="#1f9f86" stroke-width="1" opacity="0.58"/>
<rect x="692.25" y="187.2" width="3.1" height="28.7" fill="#1f9f86" rx="0.4"/>
<line x1="698.5" y1="188" x2="698.5" y2="207.8" stroke="#ee3c4d" stroke-width="1" opacity="0.58"/>
<rect x="696.7" y="188" width="3.1" height="1.8" fill="#ee3c4d" rx="0.4"/>
<line x1="702.5" y1="186" x2="702.5" y2="201.5" stroke="#ee3c4d" stroke-width="1" opacity="0.58"/>
<rect x="701.15" y="189.5" width="3.1" height="10.5" fill="#ee3c4d" rx="0.4"/>
<line x1="707.5" y1="178.9" x2="707.5" y2="202.3" stroke="#1f9f86" stroke-width="1" opacity="0.58"/>
<rect x="705.6" y="185.5" width="3.1" height="14.5" fill="#1f9f86" rx="0.4"/>
<line x1="711.5" y1="175" x2="711.5" y2="187.5" stroke="#1f9f86" stroke-width="1" opacity="0.58"/>
<rect x="710.05" y="178.2" width="3.1" height="7.8" fill="#1f9f86" rx="0.4"/>
<line x1="716.5" y1="168.8" x2="716.5" y2="180.8" stroke="#1f9f86" stroke-width="1" opacity="0.58"/>
<rect x="714.5" y="177.4" width="3.1" height="1.5" fill="#1f9f86" rx="0.4"/>
<line x1="720.5" y1="151.2" x2="720.5" y2="199.2" stroke="#1f9f86" stroke-width="1" opacity="0.58"/>
<rect x="718.95" y="155.6" width="3.1" height="22.3" fill="#1f9f86" rx="0.4"/>
<line x1="724.5" y1="138" x2="724.5" y2="161.8" stroke="#1f9f86" stroke-width="1" opacity="0.58"/>
<rect x="723.4" y="153.2" width="3.1" height="2.4" fill="#1f9f86" rx="0.4"/>
<line x1="729.5" y1="141" x2="729.5" y2="163.4" stroke="#1f9f86" stroke-width="1" opacity="0.58"/>
<rect x="727.85" y="150.9" width="3.1" height="1.6" fill="#1f9f86" rx="0.4"/>
<line x1="733.5" y1="134.9" x2="733.5" y2="155.6" stroke="#ee3c4d" stroke-width="1" opacity="0.58"/>
<rect x="732.3" y="150.9" width="3.1" height="4.7" fill="#ee3c4d" rx="0.4"/>
<line x1="738.5" y1="147" x2="738.5" y2="156.8" stroke="#1f9f86" stroke-width="1" opacity="0.58"/>
<rect x="736.75" y="148.6" width="3.1" height="8.2" fill="#1f9f86" rx="0.4"/>
<line x1="742.5" y1="130.2" x2="742.5" y2="149.3" stroke="#1f9f86" stroke-width="1" opacity="0.58"/>
<rect x="741.2" y="132.6" width="3.1" height="16.7" fill="#1f9f86" rx="0.4"/>
<line x1="747.5" y1="132.2" x2="747.5" y2="147.6" stroke="#ee3c4d" stroke-width="1" opacity="0.58"/>
<rect x="745.65" y="132.2" width="3.1" height="7.4" fill="#ee3c4d" rx="0.4"/>
<line x1="751.5" y1="127.9" x2="751.5" y2="143" stroke="#1f9f86" stroke-width="1" opacity="0.58"/>
<rect x="750.1" y="138" width="3.1" height="2" fill="#1f9f86" rx="0.4"/>
<line x1="756.5" y1="108.9" x2="756.5" y2="142.7" stroke="#1f9f86" stroke-width="1" opacity="0.58"/>
<rect x="754.55" y="113.1" width="3.1" height="24.9" fill="#1f9f86" rx="0.4"/>
<line x1="760.5" y1="105.3" x2="760.5" y2="121.7" stroke="#ee3c4d" stroke-width="1" opacity="0.58"/>
<rect x="759" y="116.7" width="3.1" height="4.5" fill="#ee3c4d" rx="0.4"/>
<line x1="765.5" y1="110" x2="765.5" y2="120.9" stroke="#1f9f86" stroke-width="1" opacity="0.58"/>
<rect x="763.45" y="113.1" width="3.1" height="7.8" fill="#1f9f86" rx="0.4"/>
<line x1="769.5" y1="95.2" x2="769.5" y2="113.1" stroke="#1f9f86" stroke-width="1" opacity="0.58"/>
<rect x="767.9" y="100.6" width="3.1" height="12.5" fill="#1f9f86" rx="0.4"/>
<line x1="773.5" y1="87.9" x2="773.5" y2="101.7" stroke="#1f9f86" stroke-width="1" opacity="0.58"/>
<rect x="772.35" y="98.3" width="3.1" height="3.4" fill="#1f9f86" rx="0.4"/>
<line x1="778.5" y1="93.3" x2="778.5" y2="109.2" stroke="#ee3c4d" stroke-width="1" opacity="0.58"/>
<rect x="776.8" y="99.1" width="3.1" height="5.7" fill="#ee3c4d" rx="0.4"/>
<line x1="782.5" y1="96.4" x2="782.5" y2="111.5" stroke="#1f9f86" stroke-width="1" opacity="0.58"/>
<rect x="781.25" y="99.1" width="3.1" height="5.7" fill="#1f9f86" rx="0.4"/>
<line x1="787.5" y1="71.8" x2="787.5" y2="105.3" stroke="#1f9f86" stroke-width="1" opacity="0.58"/>
<rect x="785.7" y="73.7" width="3.1" height="24.9" fill="#1f9f86" rx="0.4"/>
<line x1="791.5" y1="58.6" x2="791.5" y2="81.2" stroke="#1f9f86" stroke-width="1" opacity="0.58"/>
<rect x="790.15" y="60.9" width="3.1" height="13.2" fill="#1f9f86" rx="0.4"/>
<rect x="794.6" y="60.9" width="3.1" height="41.3" fill="#ee3c4d" rx="0.4"/>
<line x1="800.5" y1="102.2" x2="800.5" y2="164.9" stroke="#ee3c4d" stroke-width="1" opacity="0.58"/>
<rect x="799.05" y="102.2" width="3.1" height="59.6" fill="#ee3c4d" rx="0.4"/>
<line x1="805.5" y1="175" x2="805.5" y2="311.5" stroke="#ee3c4d" stroke-width="1" opacity="0.58"/>
<rect x="803.5" y="188.3" width="3.1" height="117.1" fill="#ee3c4d" rx="0.4"/>
<line x1="809.5" y1="206.2" x2="809.5" y2="343.8" stroke="#1f9f86" stroke-width="1" opacity="0.58"/>
<rect x="807.95" y="237.9" width="3.1" height="68.2" fill="#1f9f86" rx="0.4"/>
<line x1="813.5" y1="202.3" x2="813.5" y2="374" stroke="#ee3c4d" stroke-width="1" opacity="0.58"/>
<rect x="812.4" y="237.9" width="3.1" height="90.3" fill="#ee3c4d" rx="0.4"/>
<line x1="818.5" y1="248.8" x2="818.5" y2="346.7" stroke="#1f9f86" stroke-width="1" opacity="0.58"/>
<rect x="816.85" y="260.8" width="3.1" height="66.5" fill="#1f9f86" rx="0.4"/>
<line x1="822.5" y1="239.5" x2="822.5" y2="351.6" stroke="#ee3c4d" stroke-width="1" opacity="0.58"/>
<rect x="821.3" y="260" width="3.1" height="79.9" fill="#ee3c4d" rx="0.4"/>
<line x1="827.5" y1="294.5" x2="827.5" y2="396.4" stroke="#1f9f86" stroke-width="1" opacity="0.58"/>
<rect x="825.75" y="305.9" width="3.1" height="4.6" fill="#1f9f86" rx="0.4"/>
<line x1="831.5" y1="255.5" x2="831.5" y2="319.5" stroke="#1f9f86" stroke-width="1" opacity="0.58"/>
<rect x="830.2" y="258.9" width="3.1" height="47.2" fill="#1f9f86" rx="0.4"/>
<line x1="836.5" y1="238.4" x2="836.5" y2="320.4" stroke="#ee3c4d" stroke-width="1" opacity="0.58"/>
<rect x="834.65" y="258.2" width="3.1" height="57.7" fill="#ee3c4d" rx="0.4"/>
<line x1="840.5" y1="298.7" x2="840.5" y2="363.3" stroke="#ee3c4d" stroke-width="1" opacity="0.58"/>
<rect x="839.1" y="317.2" width="3.1" height="25.6" fill="#ee3c4d" rx="0.4"/>
<line x1="845.5" y1="338.9" x2="845.5" y2="419.8" stroke="#ee3c4d" stroke-width="1" opacity="0.58"/>
<rect x="843.55" y="342.5" width="3.1" height="16.9" fill="#ee3c4d" rx="0.4"/>
<line x1="849.5" y1="293.2" x2="849.5" y2="358.4" stroke="#1f9f86" stroke-width="1" opacity="0.58"/>
<rect x="848" y="301" width="3.1" height="50.6" fill="#1f9f86" rx="0.4"/>
<line x1="854.5" y1="279.2" x2="854.5" y2="327.3" stroke="#1f9f86" stroke-width="1" opacity="0.58"/>
<rect x="852.45" y="279.2" width="3.1" height="21.8" fill="#1f9f86" rx="0.4"/>
<line x1="858.5" y1="266.7" x2="858.5" y2="296.3" stroke="#1f9f86" stroke-width="1" opacity="0.58"/>
<rect x="856.9" y="275.3" width="3.1" height="3.9" fill="#1f9f86" rx="0.4"/>
<line x1="862.5" y1="261.3" x2="862.5" y2="291.7" stroke="#1f9f86" stroke-width="1" opacity="0.58"/>
<rect x="861.35" y="270.2" width="3.1" height="4.3" fill="#1f9f86" rx="0.4"/>
<line x1="867.5" y1="258.6" x2="867.5" y2="294" stroke="#ee3c4d" stroke-width="1" opacity="0.58"/>
<rect x="865.8" y="269.1" width="3.1" height="24.9" fill="#ee3c4d" rx="0.4"/>
<line x1="871.5" y1="267.2" x2="871.5" y2="308.8" stroke="#ee3c4d" stroke-width="1" opacity="0.58"/>
<rect x="870.25" y="277.6" width="3.1" height="31.2" fill="#ee3c4d" rx="0.4"/>
<line x1="876.5" y1="293.2" x2="876.5" y2="346.7" stroke="#ee3c4d" stroke-width="1" opacity="0.58"/>
<rect x="874.7" y="309" width="3.1" height="36.2" fill="#ee3c4d" rx="0.4"/>
<line x1="880.5" y1="327.3" x2="880.5" y2="394.4" stroke="#ee3c4d" stroke-width="1" opacity="0.58"/>
<rect x="879.15" y="343.8" width="3.1" height="12.1" fill="#ee3c4d" rx="0.4"/>
<line x1="885.5" y1="343.8" x2="885.5" y2="386.7" stroke="#1f9f86" stroke-width="1" opacity="0.58"/>
<rect x="883.6" y="343.8" width="3.1" height="13.6" fill="#1f9f86" rx="0.4"/>
<line x1="889.5" y1="303" x2="889.5" y2="346.3" stroke="#1f9f86" stroke-width="1" opacity="0.58"/>
<rect x="888.05" y="303" width="3.1" height="39.5" fill="#1f9f86" rx="0.4"/>
<line x1="894.5" y1="295" x2="894.5" y2="318.5" stroke="#1f9f86" stroke-width="1" opacity="0.58"/>
<rect x="892.5" y="297.1" width="3.1" height="17.5" fill="#1f9f86" rx="0.4"/>
<line x1="898.5" y1="281.5" x2="898.5" y2="309.7" stroke="#1f9f86" stroke-width="1" opacity="0.58"/>
<rect x="896.95" y="295.2" width="3.1" height="2.7" fill="#1f9f86" rx="0.4"/>
<line x1="902.5" y1="282.3" x2="902.5" y2="332.1" stroke="#ee3c4d" stroke-width="1" opacity="0.58"/>
<rect x="901.4" y="294" width="3.1" height="16.7" fill="#ee3c4d" rx="0.4"/>
<line x1="907.5" y1="301.8" x2="907.5" y2="327.3" stroke="#1f9f86" stroke-width="1" opacity="0.58"/>
<rect x="905.85" y="308.2" width="3.1" height="3.3" fill="#1f9f86" rx="0.4"/>
<line x1="911.5" y1="266.7" x2="911.5" y2="314.1" stroke="#1f9f86" stroke-width="1" opacity="0.58"/>
<rect x="910.3" y="275.6" width="3.1" height="32.2" fill="#1f9f86" rx="0.4"/>
<line x1="916.5" y1="251.9" x2="916.5" y2="276.1" stroke="#1f9f86" stroke-width="1" opacity="0.58"/>
<rect x="914.75" y="251.9" width="3.1" height="17.9" fill="#1f9f86" rx="0.4"/>
<line x1="920.5" y1="244.1" x2="920.5" y2="261.3" stroke="#1f9f86" stroke-width="1" opacity="0.58"/>
<rect x="919.2" y="252" width="3.1" height="1.2" fill="#1f9f86" rx="0.4"/>
<line x1="925.5" y1="232.1" x2="925.5" y2="252.7" stroke="#1f9f86" stroke-width="1" opacity="0.58"/>
<rect x="923.65" y="239.9" width="3.1" height="12.8" fill="#1f9f86" rx="0.4"/>
<rect x="928.1" y="239" width="3.1" height="26.2" fill="#ee3c4d" rx="0.4"/>
<line x1="934.5" y1="251.2" x2="934.5" y2="273" stroke="#1f9f86" stroke-width="1" opacity="0.58"/>
<rect x="932.55" y="255" width="3.1" height="9.1" fill="#1f9f86" rx="0.4"/>
<rect x="937" y="256.3" width="3.1" height="22.1" fill="#ee3c4d" rx="0.4"/>
<line x1="943.5" y1="256.5" x2="943.5" y2="325.3" stroke="#ee3c4d" stroke-width="1" opacity="0.58"/>
<rect x="941.45" y="275.6" width="3.1" height="36.4" fill="#ee3c4d" rx="0.4"/>
<line x1="947.5" y1="301" x2="947.5" y2="333.5" stroke="#1f9f86" stroke-width="1" opacity="0.58"/>
<rect x="945.9" y="313.2" width="3.1" height="1.6" fill="#1f9f86" rx="0.4"/>
<line x1="951.5" y1="275.2" x2="951.5" y2="319.3" stroke="#1f9f86" stroke-width="1" opacity="0.58"/>
<rect x="950.35" y="282.2" width="3.1" height="31.9" fill="#1f9f86" rx="0.4"/>
<line x1="956.5" y1="275.2" x2="956.5" y2="299.6" stroke="#ee3c4d" stroke-width="1" opacity="0.58"/>
<rect x="954.8" y="280.2" width="3.1" height="19.4" fill="#ee3c4d" rx="0.4"/>
<line x1="960.5" y1="260.4" x2="960.5" y2="290.7" stroke="#1f9f86" stroke-width="1" opacity="0.58"/>
<rect x="959.25" y="264.6" width="3.1" height="24.3" fill="#1f9f86" rx="0.4"/>
<line x1="965.5" y1="262.7" x2="965.5" y2="319" stroke="#ee3c4d" stroke-width="1" opacity="0.58"/>
<rect x="963.7" y="262.7" width="3.1" height="47.3" fill="#ee3c4d" rx="0.4"/>
<line x1="969.5" y1="296.2" x2="969.5" y2="351.6" stroke="#ee3c4d" stroke-width="1" opacity="0.58"/>
<rect x="968.15" y="308.2" width="3.1" height="43.4" fill="#ee3c4d" rx="0.4"/>
<line x1="974.5" y1="315.6" x2="974.5" y2="391.1" stroke="#ee3c4d" stroke-width="1" opacity="0.58"/>
<rect x="972.6" y="346.7" width="3.1" height="7.8" fill="#ee3c4d" rx="0.4"/>
<line x1="978.5" y1="315" x2="978.5" y2="355.5" stroke="#1f9f86" stroke-width="1" opacity="0.58"/>
<rect x="977.05" y="321.8" width="3.1" height="33.7" fill="#1f9f86" rx="0.4"/>
<line x1="983.5" y1="300.1" x2="983.5" y2="321.2" stroke="#1f9f86" stroke-width="1" opacity="0.58"/>
<rect x="981.5" y="300.1" width="3.1" height="17.1" fill="#1f9f86" rx="0.4"/>
<line x1="987.5" y1="283.7" x2="987.5" y2="309.4" stroke="#1f9f86" stroke-width="1" opacity="0.58"/>
<rect x="985.95" y="294.2" width="3.1" height="6.7" fill="#1f9f86" rx="0.4"/>
<line x1="991.5" y1="279.1" x2="991.5" y2="329.7" stroke="#ee3c4d" stroke-width="1" opacity="0.58"/>
<rect x="990.4" y="294.2" width="3.1" height="29.3" fill="#ee3c4d" rx="0.4"/>
<line x1="996.5" y1="317.2" x2="996.5" y2="326.9" stroke="#ee3c4d" stroke-width="1" opacity="0.58"/>
<rect x="994.85" y="321.9" width="3.1" height="5" fill="#ee3c4d" rx="0.4"/>
<line x1="1000.5" y1="299.3" x2="1000.5" y2="329.7" stroke="#1f9f86" stroke-width="1" opacity="0.58"/>
<rect x="999.3" y="302.4" width="3.1" height="24.5" fill="#1f9f86" rx="0.4"/>
<line x1="1005.5" y1="293.1" x2="1005.5" y2="310.2" stroke="#1f9f86" stroke-width="1" opacity="0.58"/>
<rect x="1003.75" y="297" width="3.1" height="5.9" fill="#1f9f86" rx="0.4"/>
<line x1="1009.5" y1="270.8" x2="1009.5" y2="310.2" stroke="#1f9f86" stroke-width="1" opacity="0.58"/>
<rect x="1008.2" y="279.5" width="3.1" height="18.3" fill="#1f9f86" rx="0.4"/>
<line x1="1014.5" y1="261.2" x2="1014.5" y2="286.1" stroke="#1f9f86" stroke-width="1" opacity="0.58"/>
<rect x="1012.65" y="261.2" width="3.1" height="17.9" fill="#1f9f86" rx="0.4"/>
<line x1="1018.5" y1="233.1" x2="1018.5" y2="267.4" stroke="#1f9f86" stroke-width="1" opacity="0.58"/>
<rect x="1017.1" y="238" width="3.1" height="18.8" fill="#1f9f86" rx="0.4"/>
<line x1="1023.5" y1="216.6" x2="1023.5" y2="251.8" stroke="#1f9f86" stroke-width="1" opacity="0.58"/>
<rect x="1021.55" y="235.5" width="3.1" height="2" fill="#1f9f86" rx="0.4"/>
<line x1="1027.5" y1="217.9" x2="1027.5" y2="245.6" stroke="#1f9f86" stroke-width="1" opacity="0.58"/>
<rect x="1026" y="223.3" width="3.1" height="16.8" fill="#1f9f86" rx="0.4"/>
<line x1="1032.5" y1="203.9" x2="1032.5" y2="225" stroke="#1f9f86" stroke-width="1" opacity="0.58"/>
<rect x="1030.45" y="222.1" width="3.1" height="1.5" fill="#1f9f86" rx="0.4"/>
<line x1="1036.5" y1="207.3" x2="1036.5" y2="239.5" stroke="#1f9f86" stroke-width="1" opacity="0.58"/>
<rect x="1034.9" y="209.3" width="3.1" height="10.1" fill="#1f9f86" rx="0.4"/>
<line x1="1040.5" y1="174.3" x2="1040.5" y2="212.4" stroke="#1f9f86" stroke-width="1" opacity="0.58"/>
<rect x="1039.35" y="174.3" width="3.1" height="35.3" fill="#1f9f86" rx="0.4"/>
<line x1="1045.5" y1="152.2" x2="1045.5" y2="186" stroke="#1f9f86" stroke-width="1" opacity="0.58"/>
<rect x="1043.8" y="167.3" width="3.1" height="7.2" fill="#1f9f86" rx="0.4"/>
<rect x="1048.25" y="157.1" width="3.1" height="9.5" fill="#1f9f86" rx="0.4"/>
<line x1="1054.5" y1="157.1" x2="1054.5" y2="194.5" stroke="#ee3c4d" stroke-width="1" opacity="0.58"/>
<rect x="1052.7" y="157.1" width="3.1" height="35.9" fill="#ee3c4d" rx="0.4"/>
<line x1="1058.5" y1="190.6" x2="1058.5" y2="212.4" stroke="#ee3c4d" stroke-width="1" opacity="0.58"/>
<rect x="1057.15" y="193.3" width="3.1" height="10.6" fill="#ee3c4d" rx="0.4"/>
<line x1="1063.5" y1="190.2" x2="1063.5" y2="223.3" stroke="#ee3c4d" stroke-width="1" opacity="0.58"/>
<rect x="1061.6" y="202.3" width="3.1" height="15.6" fill="#ee3c4d" rx="0.4"/>
<line x1="1067.5" y1="176.2" x2="1067.5" y2="220.2" stroke="#1f9f86" stroke-width="1" opacity="0.58"/>
<rect x="1066.05" y="181" width="3.1" height="36.9" fill="#1f9f86" rx="0.4"/>
<line x1="1072.5" y1="165.9" x2="1072.5" y2="198.4" stroke="#ee3c4d" stroke-width="1" opacity="0.58"/>
<rect x="1070.5" y="176.2" width="3.1" height="12.6" fill="#ee3c4d" rx="0.4"/>
<line x1="1076.5" y1="173.3" x2="1076.5" y2="195.3" stroke="#1f9f86" stroke-width="1" opacity="0.58"/>
<rect x="1074.95" y="186.7" width="3.1" height="2.4" fill="#1f9f86" rx="0.4"/>
<line x1="1080.5" y1="159.6" x2="1080.5" y2="186.7" stroke="#1f9f86" stroke-width="1" opacity="0.58"/>
<rect x="1079.4" y="169.1" width="3.1" height="17.6" fill="#1f9f86" rx="0.4"/>
<line x1="1085.5" y1="162.6" x2="1085.5" y2="186.7" stroke="#ee3c4d" stroke-width="1" opacity="0.58"/>
<rect x="1083.85" y="169.1" width="3.1" height="9.5" fill="#ee3c4d" rx="0.4"/>
<line x1="1089.5" y1="156.7" x2="1089.5" y2="178.6" stroke="#1f9f86" stroke-width="1" opacity="0.58"/>
<rect x="1088.3" y="160" width="3.1" height="18.6" fill="#1f9f86" rx="0.4"/>
<line x1="1094.5" y1="154.4" x2="1094.5" y2="168.8" stroke="#ee3c4d" stroke-width="1" opacity="0.58"/>
<rect x="1092.75" y="158" width="3.1" height="6.8" fill="#ee3c4d" rx="0.4"/>
<line x1="1098.5" y1="137.3" x2="1098.5" y2="183.6" stroke="#1f9f86" stroke-width="1" opacity="0.58"/>
<rect x="1097.2" y="144.6" width="3.1" height="18.9" fill="#1f9f86" rx="0.4"/>
<line x1="1103.5" y1="116.6" x2="1103.5" y2="158.7" stroke="#1f9f86" stroke-width="1" opacity="0.58"/>
<rect x="1101.65" y="140.4" width="3.1" height="4.2" fill="#1f9f86" rx="0.4"/>
<line x1="1107.5" y1="120.2" x2="1107.5" y2="153.2" stroke="#ee3c4d" stroke-width="1" opacity="0.58"/>
<rect x="1106.1" y="140.4" width="3.1" height="9.2" fill="#ee3c4d" rx="0.4"/>
<line x1="1112.5" y1="121.3" x2="1112.5" y2="148.5" stroke="#1f9f86" stroke-width="1" opacity="0.58"/>
<rect x="1110.55" y="135" width="3.1" height="13.5" fill="#1f9f86" rx="0.4"/>
<line x1="1116.5" y1="124.4" x2="1116.5" y2="134.8" stroke="#1f9f86" stroke-width="1" opacity="0.58"/>
<rect x="1115" y="125.6" width="3.1" height="9.2" fill="#1f9f86" rx="0.4"/>
<line x1="1121.5" y1="126" x2="1121.5" y2="146.2" stroke="#ee3c4d" stroke-width="1" opacity="0.58"/>
<rect x="1119.45" y="126" width="3.1" height="14.4" fill="#ee3c4d" rx="0.4"/>
<line x1="1125.5" y1="127.2" x2="1125.5" y2="141.5" stroke="#1f9f86" stroke-width="1" opacity="0.58"/>
<rect x="1123.9" y="134.2" width="3.1" height="6.2" fill="#1f9f86" rx="0.4"/>
<line x1="1129.5" y1="116.1" x2="1129.5" y2="139.2" stroke="#1f9f86" stroke-width="1" opacity="0.58"/>
<rect x="1128.35" y="118.5" width="3.1" height="16" fill="#1f9f86" rx="0.4"/>
<line x1="1134.5" y1="116.1" x2="1134.5" y2="138.4" stroke="#ee3c4d" stroke-width="1" opacity="0.58"/>
<rect x="1132.8" y="118.9" width="3.1" height="9.7" fill="#ee3c4d" rx="0.4"/>
<line x1="1138.5" y1="125.6" x2="1138.5" y2="138.4" stroke="#1f9f86" stroke-width="1" opacity="0.58"/>
<rect x="1137.25" y="128.8" width="3.1" height="3.8" fill="#1f9f86" rx="0.4"/>
<line x1="1143.5" y1="122.8" x2="1143.5" y2="147.8" stroke="#1f9f86" stroke-width="1" opacity="0.58"/>
<rect x="1141.7" y="126.3" width="3.1" height="3.2" fill="#1f9f86" rx="0.4"/>
<line x1="1147.5" y1="122.1" x2="1147.5" y2="136.4" stroke="#ee3c4d" stroke-width="1" opacity="0.58"/>
<rect x="1146.15" y="125.2" width="3.1" height="11.2" fill="#ee3c4d" rx="0.4"/>
<line x1="1152.5" y1="97.9" x2="1152.5" y2="134.8" stroke="#1f9f86" stroke-width="1" opacity="0.58"/>
<rect x="1150.6" y="104.1" width="3.1" height="30.7" fill="#1f9f86" rx="0.4"/>
<!-- TV logo -->
<g fill="#111">
<path d="M8 557H15.9V567.4H12.1V560.7H8Z"/>
<circle cx="19.8" cy="559" r="1.8"/>
<path d="M24.6 557H28.7L24.4 567.4H20.2Z"/>
</g>
<!-- flash icon -->
<g stroke="#9727ae" fill="none">
<circle cx="1152.2" cy="568.6" r="6.7" stroke-width="1.1"/>
<path d="M1154.4 565L1149.8 568.9H1154.4L1150.2 572.2" stroke-width="1.1" stroke-linejoin="miter"/>
</g>
<!-- gear -->
<g stroke="#555" fill="none" stroke-width="0.9">
<path d="M1226.8 631.7H1231.7L1234.2 636L1231.7 640.3H1226.8L1224.3 636Z"/>
<circle cx="1229.25" cy="636" r="1.7"/>
</g>
<!-- flag -->
<g>
<clipPath id="fc"><circle cx="11.9" cy="11.5" r="6.3"/></clipPath>
<g clip-path="url(#fc)">
<rect x="5" y="5" width="14" height="14" fill="#fff"/>
<rect x="5" y="5" width="14" height="3" fill="#e0452f"/>
<rect x="5" y="9.7" width="14" height="2.7" fill="#e0452f"/>
<rect x="5" y="14.9" width="14" height="3.5" fill="#e0351f"/>
<rect x="5" y="5" width="8" height="7.6" fill="#3f7be0"/>
<g fill="#dff1ff"><circle cx="7.6" cy="7.8" r="0.55"/><circle cx="9.5" cy="7.8" r="0.55"/><circle cx="11.4" cy="7.8" r="0.55"/><circle cx="7.6" cy="9.5" r="0.55"/><circle cx="9.5" cy="9.5" r="0.55"/><circle cx="11.4" cy="9.5" r="0.55"/><circle cx="7.6" cy="11.1" r="0.55"/><circle cx="9.5" cy="11.1" r="0.55"/><circle cx="11.4" cy="11.1" r="0.55"/></g>
</g>
</g>
</svg>
<div class="abs" id="title">US Government Bonds 2 YR Yield · 1D · TVC</div>
<div class="abs ohlc" style="left:252px">O<i>4.716%</i></div>
<div class="abs ohlc" style="left:297.6px">H<i>4.893%</i></div>
<div class="abs ohlc" style="left:343.2px">L<i>4.710%</i></div>
<div class="abs ohlc" style="left:386.8px">C<i>4.863%</i></div>
<div class="abs ohlc" style="left:432.4px"><i>+0.151 (+3.20%)</i></div>
<div class="abs btn" style="top:21.2px"><svg width="7" height="5" viewBox="0 0 7 5"><path d="M0.9 1L3.5 3.4L6.1 1" stroke="#222" stroke-width="1" fill="none"/></svg><span>8</span></div>
<div class="abs sep" style="top:577px"></div>
<div class="abs btn" style="top:583.3px"><svg width="7" height="5" viewBox="0 0 7 5"><path d="M0.9 1L3.5 3.4L6.1 1" stroke="#222" stroke-width="1" fill="none"/></svg><span>1</span></div>
<div class="abs sep" style="top:601px"></div>
<div class="abs btn" style="top:606.7px"><svg width="7" height="5" viewBox="0 0 7 5"><path d="M0.9 1L3.5 3.4L6.1 1" stroke="#222" stroke-width="1" fill="none"/></svg><span>1</span></div>
<div class="abs" id="pct">%</div>
<div class="pl" style="top:50.7px">5.100%</div>
<div class="pl" style="top:91.5px">4.900%</div>
<div class="pl" style="top:132.4px">4.700%</div>
<div class="pl" style="top:154.8px">4.600%</div>
<div class="pl" style="top:177.2px">4.500%</div>
<div class="pl" style="top:199.7px">4.400%</div>
<div class="pl" style="top:223.2px">4.300%</div>
<div class="pl" style="top:247.1px">4.200%</div>
<div class="pl" style="top:270.7px">4.100%</div>
<div class="pl" style="top:296.1px">4.000%</div>
<div class="pl" style="top:321.5px">3.900%</div>
<div class="pl" style="top:346.9px">3.800%</div>
<div class="pl" style="top:374.6px">3.700%</div>
<div class="pl" style="top:401.8px">3.600%</div>
<div class="pl" style="top:430.4px">3.500%</div>
<div class="pl" style="top:453.8px">3.420%</div>
<div class="pl" style="top:477.1px">3.340%</div>
<div class="pl" style="top:501.4px">3.260%</div>
<div class="pl" style="top:523.2px">3.190%</div>
<div class="pl" style="top:546.1px">3.120%</div>
<div class="pl" style="top:567.3px">3.055%</div>
<div class="abs" id="last">4.863%</div>
<div class="tl" style="left:-15.7px">Jul</div>
<div class="tl" style="left:76.9px">Aug</div>
<div class="tl" style="left:179.6px">Sep</div>
<div class="tl" style="left:277.5px">Oct</div>
<div class="tl" style="left:370.7px">Nov</div>
<div class="tl" style="left:468.7px">Dec</div>
<div class="tl b" style="left:562.1px">2023</div>
<div class="tl" style="left:659.8px">Feb</div>
<div class="tl" style="left:748.8px">Mar</div>
<div class="tl" style="left:850.9px">Apr</div>
<div class="tl" style="left:940.3px">May</div>
<div class="tl" style="left:1042.6px">Jun</div>
<div class="tl" style="left:1140.4px">Jul</div>
</body></html>
